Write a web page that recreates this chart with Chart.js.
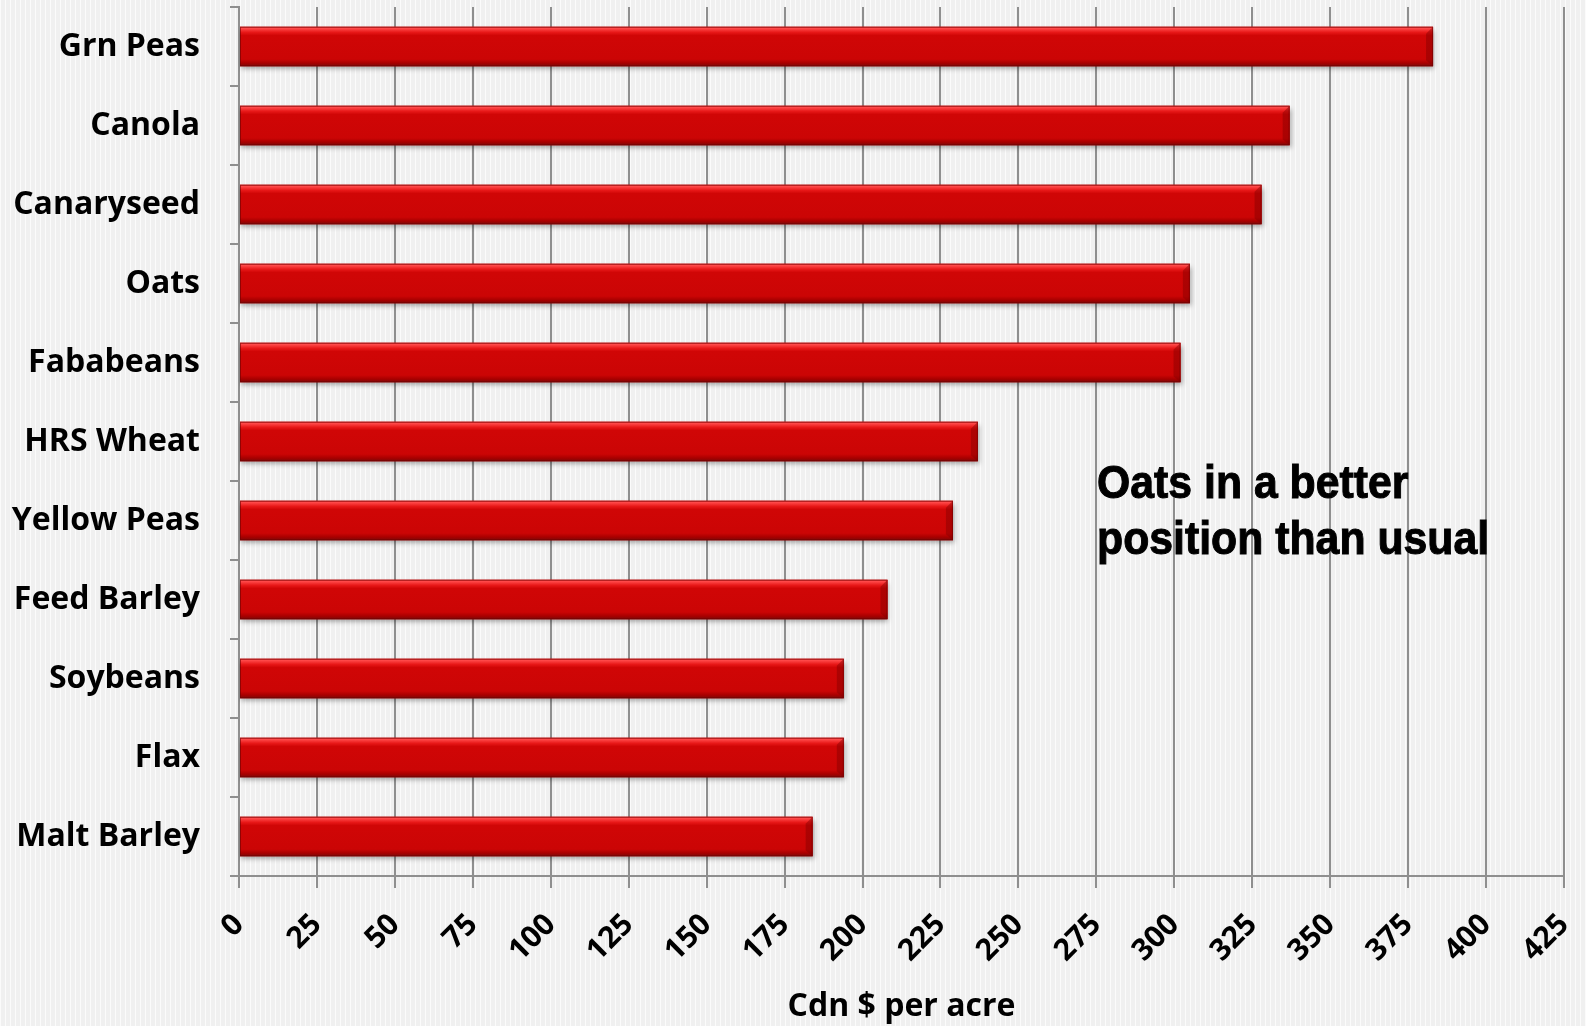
<!DOCTYPE html>
<html>
<head>
<meta charset="utf-8">
<script src="https://cdn.jsdelivr.net/npm/chart.js@4"></script>
<style>
  html, body {
    margin: 0;
    padding: 0;
    width: 1586px;
    height: 1026px;
    overflow: hidden;
    background-color: #f0f0f0;
    background-image: repeating-linear-gradient(90deg, rgba(255,255,255,0.75) 0px, rgba(255,255,255,0.75) 1px, rgba(255,255,255,0) 1px, rgba(255,255,255,0) 5px);
  }
  #wrap { position: relative; width: 1586px; height: 1026px; }
  #note {
    position: absolute;
    left: 1097px;
    top: 454px;
    font-family: "Liberation Sans", Arial, sans-serif;
    font-weight: bold;
    font-size: 46px;
    line-height: 56px;
    color: #000;
    -webkit-text-stroke: 1px #000;
    white-space: nowrap;
    transform: scaleX(0.93);
    transform-origin: left top;
  }
</style>
</head>
<body>
<div id="wrap">
  <canvas id="cropChart" width="1586" height="1026"></canvas>
  <div id="note">Oats in a better<br>position than usual</div>
</div>
<script>
const crops = ["Grn Peas", "Canola", "Canaryseed", "Oats", "Fababeans", "HRS Wheat",
  "Yellow Peas", "Feed Barley", "Soybeans", "Flax", "Malt Barley"];
const returnsPerAcre = [383, 337, 328, 305, 302, 237, 229, 208, 194, 194, 184];
const axisMin = 0;
const axisMax = 425;
const axisStep = 25;
const axisTitle = "Cdn $ per acre";

// no extra room for half-labels at the ends, the layout padding handles it
function noScalePadding(scale) {
  scale.paddingTop = 0;
  scale.paddingBottom = 0;
  scale.paddingLeft = 0;
  scale.paddingRight = 0;
}

// shadow under the bars, then a bevel-ish gradient on top of each bar
const bevelBars = {
  id: "bevelBars",
  beforeDatasetsDraw(chart) {
    const ctx = chart.ctx;
    ctx.save();
    ctx.shadowColor = "rgba(0,0,0,0.35)";
    ctx.shadowBlur = 5;
    ctx.shadowOffsetY = 3;
    ctx.shadowOffsetX = 1;
  },
  afterDatasetsDraw(chart) {
    const ctx = chart.ctx;
    ctx.restore();
    const meta = chart.getDatasetMeta(0);
    meta.data.forEach((bar) => {
      const left = bar.base;
      const right = bar.x;
      const top = bar.y - bar.height / 2;
      const h = bar.height;
      const g = ctx.createLinearGradient(0, top, 0, top + h);
      g.addColorStop(0, "#e83030");
      g.addColorStop(0.04, "#ff4a4a");
      g.addColorStop(0.14, "#e81818");
      g.addColorStop(0.22, "#d00606");
      g.addColorStop(0.82, "#cb0505");
      g.addColorStop(0.92, "#a80000");
      g.addColorStop(1, "#7c0a0a");
      ctx.save();
      ctx.fillStyle = g;
      ctx.fillRect(left, top, right - left, h);
      // right end bevel
      ctx.beginPath();
      ctx.moveTo(right, top);
      ctx.lineTo(right - 7, top + 7);
      ctx.lineTo(right - 7, top + h - 6);
      ctx.lineTo(right, top + h);
      ctx.closePath();
      ctx.fillStyle = "rgba(130,0,0,0.45)";
      ctx.fill();
      ctx.strokeStyle = "rgba(110,0,0,0.6)";
      ctx.lineWidth = 1;
      ctx.strokeRect(left + 0.5, top + 0.5, right - left - 1, h - 1);
      ctx.restore();
    });
  }
};

new Chart(document.getElementById("cropChart").getContext("2d"), {
  type: "bar",
  data: {
    labels: crops,
    datasets: [{
      label: axisTitle,
      data: returnsPerAcre,
      backgroundColor: "#cc0404",
      borderWidth: 0,
      barPercentage: 0.5,
      categoryPercentage: 1.0
    }]
  },
  options: {
    indexAxis: "y",
    responsive: false,
    animation: false,
    events: [],
    layout: { padding: { top: 7, right: 22, left: 0, bottom: 0 } },
    plugins: {
      legend: { display: false },
      tooltip: { enabled: false }
    },
    scales: {
      x: {
        min: axisMin,
        max: axisMax,
        afterFit(scale) { scale.height = 150; noScalePadding(scale); },
        ticks: {
          stepSize: axisStep,
          autoSkip: false,
          minRotation: 45,
          maxRotation: 45,
          padding: 19,
          color: "#000",
          font: { family: "'Open Sans', sans-serif", weight: "bold", size: 30 }
        },
        grid: { color: "#8f8f8f", lineWidth: 2, tickLength: 12 },
        border: { color: "#8f8f8f", width: 2 },
        title: {
          display: true,
          text: axisTitle,
          color: "#000",
          padding: { top: 0, bottom: 0 },
          font: { family: "'Open Sans', sans-serif", weight: "bold", size: 32 }
        }
      },
      y: {
        afterFit(scale) { scale.width = 239; noScalePadding(scale); },
        ticks: {
          padding: 30,
          color: "#000",
          font: { family: "'Open Sans', sans-serif", weight: "bold", size: 32 }
        },
        grid: { offset: true, drawOnChartArea: false, color: "#8f8f8f", lineWidth: 2, tickLength: 9 },
        border: { color: "#8f8f8f", width: 2 }
      }
    }
  },
  plugins: [bevelBars]
});
</script>
</body>
</html>
